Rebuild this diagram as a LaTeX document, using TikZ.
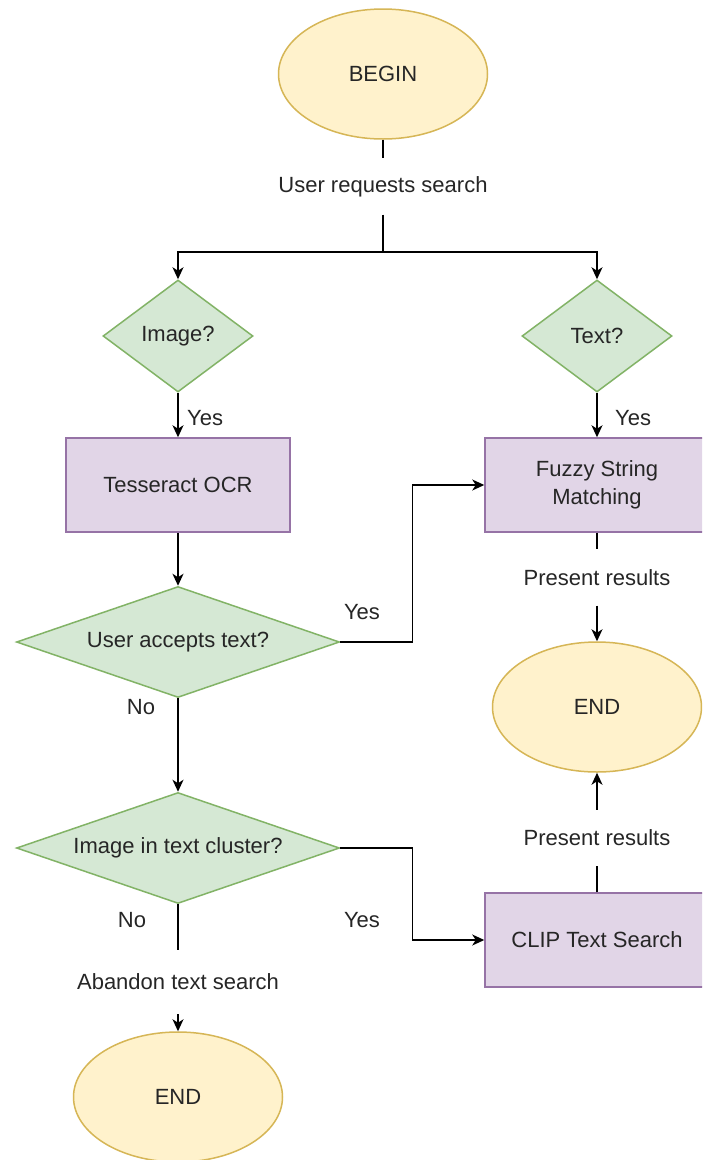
\documentclass[tikz,border=0pt]{standalone}
\usepackage{fontspec}
\setmainfont{Liberation Sans}
\usetikzlibrary{shapes.geometric,arrows.meta,calc}
\definecolor{termfill}{HTML}{FFF2CC}
\definecolor{termdraw}{HTML}{D6B656}
\definecolor{decfill}{HTML}{D5E8D4}
\definecolor{decdraw}{HTML}{82B366}
\definecolor{procfill}{HTML}{E1D5E7}
\definecolor{procdraw}{HTML}{9673A6}
\definecolor{txt}{HTML}{262626}
\begin{document}
\begin{tikzpicture}[x=1pt,y=-1pt,
  base/.style={font=\fontsize{22}{28}\selectfont, text=txt},
  term/.style={base, ellipse, draw=termdraw, fill=termfill, line width=1.5pt,
    minimum width=209pt, minimum height=130pt, inner sep=0pt},
  decide/.style={base, diamond, draw=decdraw, fill=decfill, line width=1.5pt, inner sep=0pt},
  proc/.style={base, rectangle, draw=procdraw, fill=procfill, line width=1.5pt,
    minimum width=224pt, minimum height=94pt, align=center},
  lbl/.style={base, inner sep=0pt},
  gaplbl/.style={base, inner sep=0pt, minimum height=56pt},
  link/.style={line width=1.5pt, draw=black},
  arr/.style={link, -{Stealth[length=12pt,width=11pt,inset=3.5pt]}}
]
\path[use as bounding box, fill=white] (0,0) rectangle (702,1160);
\clip (0,0) rectangle (702,1160);

% terminals
\node[term] (begin) at (383,74) {BEGIN};
\node[term] (endR) at (597,707) {END};
\node[term] (endL) at (178,1097) {END};

% decisions
\node[decide, minimum width=150pt, minimum height=112pt, aspect=1.34] (imgq) at (178,336) {Image?};
\node[decide, minimum width=150pt, minimum height=112pt, aspect=1.34] (txtq) at (597,336) {Text?};
\node[decide, minimum width=323pt, minimum height=111pt, aspect=2.9] (accept) at (178,642) {User accepts text?};
\node[decide, minimum width=323pt, minimum height=111pt, aspect=2.9] (cluster) at (178,848) {Image in text cluster?};

% processes
\node[proc] (tess) at (178,485) {Tesseract OCR};
\node[proc] (fuzzy) at (597,485) {Fuzzy String\\Matching};
\node[proc] (clip) at (597,940) {CLIP Text Search};

% labels that interrupt their connectors
\node[gaplbl] (req) at (383,186.5) {User requests search};
\node[gaplbl] (pres1) at (597,577.5) {Present results};
\node[gaplbl] (pres2) at (597,838) {Present results};
\node[gaplbl, minimum height=64pt] (aband) at (178,982) {Abandon text search};
\coordinate (split) at (383,252);

% connectors
\draw[link] (begin) -- (req);
\draw[link] (req) -- (split);
\draw[arr] (split) -| (imgq.north);
\draw[arr] (split) -| (txtq.north);
\draw[arr] (imgq) -- (tess);
\draw[arr] (txtq) -- (fuzzy);
\draw[arr] (tess) -- (accept);
\draw[arr] (accept.east) -| ($(accept.east)!.5!(fuzzy.west)$) |- (fuzzy.west);
\draw[arr] (accept) -- (cluster);
\draw[arr] (cluster.east) -| ($(cluster.east)!.5!(clip.west)$) |- (clip.west);
\draw[link] (cluster) -- (aband);
\draw[arr] (aband) -- (endL);
\draw[link] (fuzzy) -- (pres1);
\draw[arr] (pres1) -- (endR);
\draw[link] (clip) -- (pres2);
\draw[arr] (pres2) -- (endR);

% branch labels
\node[lbl, anchor=west] (yes1) at (187,418) {Yes};
\node[lbl, anchor=west] (yes2) at (615,418) {Yes};
\node[lbl] (yes3) at (362,612) {Yes};
\node[lbl] (no1) at (141,707) {No};
\node[lbl] (yes4) at (362,920) {Yes};
\node[lbl] (no2) at (132,920) {No};
\end{tikzpicture}
\end{document}
